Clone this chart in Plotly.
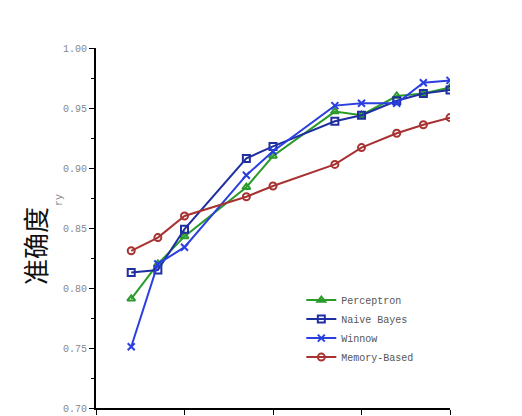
import plotly.graph_objects as go

# ── Data ──────────────────────────────────────────
sizes = [0.25, 0.5, 1, 5, 10, 50, 100, 250, 500, 1000]
perceptron = [0.791, 0.820, 0.843, 0.884, 0.910, 0.947, 0.944, 0.960, 0.962, 0.967]
naive_bayes = [0.813, 0.815, 0.849, 0.908, 0.918, 0.939, 0.944, 0.956, 0.962, 0.965]
winnow = [0.751, 0.820, 0.834, 0.894, 0.914, 0.952, 0.954, 0.954, 0.971, 0.973]
memory_based = [0.831, 0.842, 0.860, 0.876, 0.885, 0.903, 0.917, 0.929, 0.936, 0.942]

series = [
    ("Perceptron", perceptron, "#2a9a2a", "triangle-up-open"),
    ("Naive Bayes", naive_bayes, "#1f2f9f", "square-open"),
    ("Winnow", winnow, "#2a3fe0", "x-thin-open"),
    ("Memory-Based", memory_based, "#a83232", "circle-open"),
]

fig = go.Figure()
for name, vals, color, sym in series:
    fig.add_trace(go.Scatter(
        x=sizes, y=vals, name=name, mode="lines+markers",
        line=dict(color=color, width=2),
        marker=dict(symbol=sym, size=7, color=color, line=dict(width=2, color=color)),
    ))

fig.update_layout(
    width=522, height=416,
    margin=dict(l=88, r=80, t=40, b=16, autoexpand=False),
    plot_bgcolor="white", paper_bgcolor="white",
    font=dict(family="Liberation Mono", size=10, color="#888"),
    legend=dict(x=0.58, y=0.34, xanchor="left", yanchor="top",
                font=dict(family="Liberation Mono", size=10, color="#555"),
                bgcolor="rgba(0,0,0,0)", tracegroupgap=6),
    xaxis=dict(type="log", range=[-1, 3], showgrid=False, zeroline=False,
               showline=True, linecolor="black", linewidth=2, automargin=False,
               tickvals=[0.1, 1, 10, 100, 1000], ticktext=["0.1", "1", "10", "100", "1000"],
               ticks="outside", ticklen=5, tickcolor="black"),
    yaxis=dict(range=[0.70, 1.00], showgrid=False, zeroline=False,
               showline=True, linecolor="black", linewidth=2, automargin=False,
               tickvals=[0.70, 0.75, 0.80, 0.85, 0.90, 0.95, 1.00],
               tickformat=".2f", ticks="outside", ticklen=5, tickcolor="black",
               minor=dict(dtick=0.025, ticks="outside", ticklen=3, tickcolor="black")),
)

fig.add_annotation(text="准确度", x=0, xshift=-62, y=0.835, xref="paper", yref="y",
                   xanchor="center", yanchor="middle", textangle=-90, showarrow=False,
                   font=dict(family="Noto Sans CJK SC", size=26, color="#111"))
fig.add_annotation(text="ry", xref="paper", yref="y", x=0, y=0.873, xshift=-44,
                   textangle=-90, showarrow=False,
                   font=dict(family="Liberation Mono", size=10, color="#888"))

fig.write_html("out.html")
